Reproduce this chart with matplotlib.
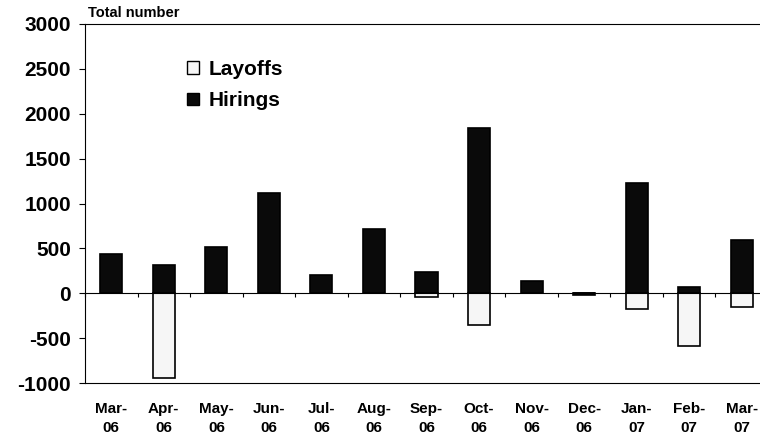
import numpy as np
import matplotlib
matplotlib.use("Agg")
import matplotlib.pyplot as plt
from matplotlib.patches import Patch

plt.rcParams['font.family'] = ['Liberation Sans', 'DejaVu Sans']
plt.rcParams['font.weight'] = 'bold'
plt.rcParams['axes.unicode_minus'] = False

# data
months = ["Mar-\n06", "Apr-\n06", "May-\n06", "Jun-\n06", "Jul-\n06", "Aug-\n06",
          "Sep-\n06", "Oct-\n06", "Nov-\n06", "Dec-\n06", "Jan-\n07", "Feb-\n07", "Mar-\n07"]
hirings = [440, 310, 510, 1120, 200, 720, 240, 1840, 135, -25, 1230, 65, 595]
layoffs = [0, -940, 0, 0, 0, 0, -40, -350, 0, 0, -175, -590, -150]
y_ticks = [-1000, -500, 0, 500, 1000, 1500, 2000, 2500, 3000]

fig = plt.figure(figsize=(7.6, 4.36), dpi=100)
ax = fig.add_axes([85 / 760, 53 / 436, 683 / 760, 359 / 436])

x = np.arange(len(months))
ax.bar(x, hirings, width=0.42, color='#0a0a0a', edgecolor='black', linewidth=1.2,
       zorder=3)
ax.bar(x, layoffs, width=0.42, color='#f6f6f6', edgecolor='black', linewidth=1.2,
       zorder=3)

ax.set_xlim(-0.5, len(months) - 0.5)
ax.set_ylim(-1000, 3000)
ax.set_yticks(y_ticks)
ax.tick_params(axis='y', direction='out', length=4, width=0.8, labelsize=15, pad=6)

# category axis sits on zero with ticks between months
ax.spines['bottom'].set_position(('data', 0))
ax.spines['bottom'].set_zorder(4)
ax.spines['right'].set_visible(False)
ax.set_xticks(np.arange(len(months) + 1) - 0.5)
ax.set_xticklabels([])
ax.tick_params(axis='x', direction='out', length=3, width=0.8)

# labels along the bottom border of the plot area
sec = ax.secondary_xaxis('bottom')
sec.set_xticks(x)
sec.set_xticklabels(months, fontsize=11, fontweight='bold', linespacing=1.45)
sec.tick_params(axis='x', length=0, pad=14)

ax.text(0.005, 1.012, "Total number", transform=ax.transAxes, fontsize=10.5,
        fontweight='bold', ha='left', va='bottom')

handles = [Patch(facecolor='#f6f6f6', edgecolor='black', linewidth=1.0, label='Layoffs'),
           Patch(facecolor='#0a0a0a', edgecolor='black', linewidth=1.0, label='Hirings')]
ax.legend(handles=handles, loc='upper left', bbox_to_anchor=(0.15, 0.90),
          frameon=False, prop={'size': 15, 'weight': 'bold'},
          handlelength=0.55, handleheight=0.55, handletextpad=0.45, labelspacing=0.6,
          borderaxespad=0, borderpad=0)

fig.savefig("out.png", dpi=100)
